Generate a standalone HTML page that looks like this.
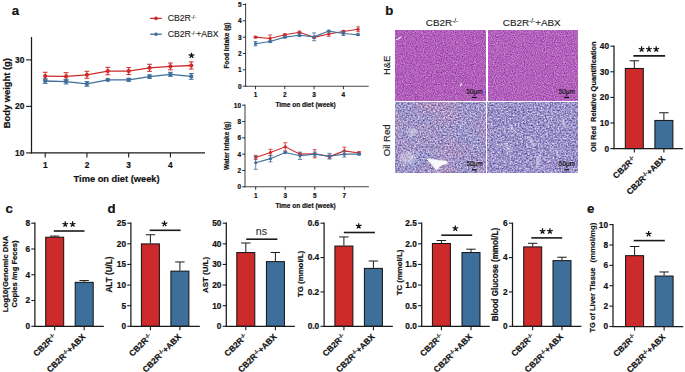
<!DOCTYPE html>
<html><head><meta charset="utf-8"><title>Figure</title>
<style>
html,body{margin:0;padding:0;background:#fff;}
body{width:685px;height:372px;overflow:hidden;}
svg{display:block;font-family:"Liberation Sans", sans-serif;}
</style></head>
<body>
<svg width="685" height="372" viewBox="0 0 685 372">

<defs>
<filter id="f_he" x="0" y="0" width="100%" height="100%" color-interpolation-filters="sRGB">
 <feTurbulence type="fractalNoise" baseFrequency="0.9" numOctaves="2" seed="4" result="n"/>
 <feColorMatrix in="n" type="matrix" values="0.45 -0.12 0 0 0.527  0.54 0 0 0 0.102  0.36 0.12 0 0 0.49  0 0 0 0 1"/>
</filter>
<filter id="f_he2" x="0" y="0" width="100%" height="100%" color-interpolation-filters="sRGB">
 <feTurbulence type="fractalNoise" baseFrequency="0.9" numOctaves="2" seed="9" result="n"/>
 <feColorMatrix in="n" type="matrix" values="0.45 -0.12 0 0 0.534  0.54 0 0 0 0.112  0.36 0.12 0 0 0.497  0 0 0 0 1"/>
</filter>
<filter id="f_or" x="0" y="0" width="100%" height="100%" color-interpolation-filters="sRGB">
 <feTurbulence type="fractalNoise" baseFrequency="0.6" numOctaves="2" seed="7" result="n0"/>
 <feGaussianBlur in="n0" stdDeviation="0.4" result="n"/>
 <feTurbulence type="fractalNoise" baseFrequency="0.035" numOctaves="2" seed="3" result="low"/>
 <feColorMatrix in="low" type="matrix" values="1 0 0 0 0  -0.3 0 0 0 0.65  -0.5 0 0 0 0.75  0 0 0 0 1" result="lowc"/>
 <feColorMatrix in="n" type="matrix" values="0.85 0.15 0 0 0.127  0.85 0 0 0 0.144  0.6 -0.08 0 0 0.505  0 0 0 0 1" result="hi"/>
 <feComposite in="hi" in2="lowc" operator="arithmetic" k1="0" k2="1" k3="0.13" k4="-0.065" result="base"/>
 <feTurbulence type="fractalNoise" baseFrequency="0.7" numOctaves="1" seed="21" result="s0"/>
 <feColorMatrix in="s0" type="matrix" values="0 0 0 0 0.93  0 0 0 0 0.92  0 0 0 0 0.96  5 0 0 0 -3.05" result="spk"/>
 <feComposite in="spk" in2="base" operator="over"/>
</filter>
<filter id="f_or2" x="0" y="0" width="100%" height="100%" color-interpolation-filters="sRGB">
 <feTurbulence type="fractalNoise" baseFrequency="0.6" numOctaves="2" seed="11" result="n0"/>
 <feGaussianBlur in="n0" stdDeviation="0.4" result="n"/>
 <feColorMatrix in="n" type="matrix" values="0.85 0.1 0 0 0.121  0.85 0 0 0 0.132  0.6 -0.05 0 0 0.501  0 0 0 0 1" result="base"/>
 <feTurbulence type="fractalNoise" baseFrequency="0.7" numOctaves="1" seed="33" result="s0"/>
 <feColorMatrix in="s0" type="matrix" values="0 0 0 0 0.93  0 0 0 0 0.92  0 0 0 0 0.96  5 0 0 0 -3.05" result="spk"/>
 <feComposite in="spk" in2="base" operator="over"/>
</filter>
<filter id="soft" x="-20%" y="-20%" width="140%" height="140%"><feGaussianBlur stdDeviation="0.8"/></filter>
</defs>

<rect width="685" height="372" fill="#fff"/>

<rect x="395.7" y="30.4" width="90.0" height="69.9" fill="#b45ab8" filter="url(#f_he)"/>
<rect x="488" y="30.4" width="90" height="69.9" fill="#b45ab8" filter="url(#f_he2)"/>
<rect x="395.4" y="102.7" width="90.4" height="69.9" fill="#9a8ec4" filter="url(#f_or)"/>
<rect x="487.9" y="102.7" width="89.8" height="69.9" fill="#9a8ec4" filter="url(#f_or2)"/>

<text x="11.80" y="14.80" font-size="13.2" font-weight="bold" text-anchor="start" fill="#111" stroke="#111" stroke-width="0.2">a</text>
<line x1="31.50" y1="37.00" x2="31.50" y2="153.50" stroke="#1a1a1a" stroke-width="1.25"/>
<line x1="30.90" y1="152.90" x2="205.00" y2="152.90" stroke="#1a1a1a" stroke-width="1.25"/>
<line x1="26.10" y1="152.90" x2="31.50" y2="152.90" stroke="#1a1a1a" stroke-width="1.1"/>
<text x="24.40" y="155.90" font-size="8.4" font-weight="bold" text-anchor="end" fill="#111" stroke="#111" stroke-width="0.2">10</text>
<line x1="26.10" y1="106.40" x2="31.50" y2="106.40" stroke="#1a1a1a" stroke-width="1.1"/>
<text x="24.40" y="109.40" font-size="8.4" font-weight="bold" text-anchor="end" fill="#111" stroke="#111" stroke-width="0.2">20</text>
<line x1="26.10" y1="59.90" x2="31.50" y2="59.90" stroke="#1a1a1a" stroke-width="1.1"/>
<text x="24.40" y="62.90" font-size="8.4" font-weight="bold" text-anchor="end" fill="#111" stroke="#111" stroke-width="0.2">30</text>
<line x1="45.20" y1="152.90" x2="45.20" y2="157.50" stroke="#1a1a1a" stroke-width="1.1"/>
<text x="45.20" y="167.70" font-size="8.3" font-weight="bold" text-anchor="middle" fill="#111" stroke="#111" stroke-width="0.2">1</text>
<line x1="86.94" y1="152.90" x2="86.94" y2="157.50" stroke="#1a1a1a" stroke-width="1.1"/>
<text x="86.94" y="167.70" font-size="8.3" font-weight="bold" text-anchor="middle" fill="#111" stroke="#111" stroke-width="0.2">2</text>
<line x1="128.68" y1="152.90" x2="128.68" y2="157.50" stroke="#1a1a1a" stroke-width="1.1"/>
<text x="128.68" y="167.70" font-size="8.3" font-weight="bold" text-anchor="middle" fill="#111" stroke="#111" stroke-width="0.2">3</text>
<line x1="170.42" y1="152.90" x2="170.42" y2="157.50" stroke="#1a1a1a" stroke-width="1.1"/>
<text x="170.42" y="167.70" font-size="8.3" font-weight="bold" text-anchor="middle" fill="#111" stroke="#111" stroke-width="0.2">4</text>
<text x="116.60" y="181.70" font-size="9.9" font-weight="bold" text-anchor="middle" fill="#111" textLength="86.0" lengthAdjust="spacingAndGlyphs" stroke="#111" stroke-width="0.2">Time on diet (week)</text>
<text x="0" y="0" font-size="9.4" font-weight="bold" text-anchor="middle" fill="#111" transform="translate(9.70 93.20) rotate(-90)" textLength="70.3" lengthAdjust="spacingAndGlyphs" stroke="#111" stroke-width="0.2">Body weight (g)</text>
<polyline points="45.20,76.08 66.07,76.41 86.94,74.78 107.81,71.06 128.68,71.06 149.55,67.80 170.42,66.41 191.29,65.48" fill="none" stroke="#cd2a2b" stroke-width="1.3"/>
<line x1="45.20" y1="72.27" x2="45.20" y2="79.90" stroke="#cd2a2b" stroke-width="1.0"/>
<line x1="42.80" y1="72.27" x2="47.60" y2="72.27" stroke="#cd2a2b" stroke-width="1.0"/>
<line x1="42.80" y1="79.90" x2="47.60" y2="79.90" stroke="#cd2a2b" stroke-width="1.0"/>
<circle cx="45.20" cy="76.08" r="2.1" fill="#cd2a2b"/>
<line x1="66.07" y1="72.69" x2="66.07" y2="80.13" stroke="#cd2a2b" stroke-width="1.0"/>
<line x1="63.67" y1="72.69" x2="68.47" y2="72.69" stroke="#cd2a2b" stroke-width="1.0"/>
<line x1="63.67" y1="80.13" x2="68.47" y2="80.13" stroke="#cd2a2b" stroke-width="1.0"/>
<circle cx="66.07" cy="76.41" r="2.1" fill="#cd2a2b"/>
<line x1="86.94" y1="71.29" x2="86.94" y2="78.27" stroke="#cd2a2b" stroke-width="1.0"/>
<line x1="84.54" y1="71.29" x2="89.34" y2="71.29" stroke="#cd2a2b" stroke-width="1.0"/>
<line x1="84.54" y1="78.27" x2="89.34" y2="78.27" stroke="#cd2a2b" stroke-width="1.0"/>
<circle cx="86.94" cy="74.78" r="2.1" fill="#cd2a2b"/>
<line x1="107.81" y1="67.34" x2="107.81" y2="74.78" stroke="#cd2a2b" stroke-width="1.0"/>
<line x1="105.41" y1="67.34" x2="110.21" y2="67.34" stroke="#cd2a2b" stroke-width="1.0"/>
<line x1="105.41" y1="74.78" x2="110.21" y2="74.78" stroke="#cd2a2b" stroke-width="1.0"/>
<circle cx="107.81" cy="71.06" r="2.1" fill="#cd2a2b"/>
<line x1="128.68" y1="67.57" x2="128.68" y2="74.55" stroke="#cd2a2b" stroke-width="1.0"/>
<line x1="126.28" y1="67.57" x2="131.08" y2="67.57" stroke="#cd2a2b" stroke-width="1.0"/>
<line x1="126.28" y1="74.55" x2="131.08" y2="74.55" stroke="#cd2a2b" stroke-width="1.0"/>
<circle cx="128.68" cy="71.06" r="2.1" fill="#cd2a2b"/>
<line x1="149.55" y1="64.27" x2="149.55" y2="71.34" stroke="#cd2a2b" stroke-width="1.0"/>
<line x1="147.15" y1="64.27" x2="151.95" y2="64.27" stroke="#cd2a2b" stroke-width="1.0"/>
<line x1="147.15" y1="71.34" x2="151.95" y2="71.34" stroke="#cd2a2b" stroke-width="1.0"/>
<circle cx="149.55" cy="67.80" r="2.1" fill="#cd2a2b"/>
<line x1="170.42" y1="63.02" x2="170.42" y2="69.80" stroke="#cd2a2b" stroke-width="1.0"/>
<line x1="168.02" y1="63.02" x2="172.82" y2="63.02" stroke="#cd2a2b" stroke-width="1.0"/>
<line x1="168.02" y1="69.80" x2="172.82" y2="69.80" stroke="#cd2a2b" stroke-width="1.0"/>
<circle cx="170.42" cy="66.41" r="2.1" fill="#cd2a2b"/>
<line x1="191.29" y1="61.90" x2="191.29" y2="69.06" stroke="#cd2a2b" stroke-width="1.0"/>
<line x1="188.89" y1="61.90" x2="193.69" y2="61.90" stroke="#cd2a2b" stroke-width="1.0"/>
<line x1="188.89" y1="69.06" x2="193.69" y2="69.06" stroke="#cd2a2b" stroke-width="1.0"/>
<circle cx="191.29" cy="65.48" r="2.1" fill="#cd2a2b"/>
<polyline points="45.20,81.01 66.07,81.62 86.94,83.89 107.81,79.90 128.68,79.80 149.55,76.59 170.42,74.32 191.29,76.41" fill="none" stroke="#3e6f9b" stroke-width="1.3"/>
<line x1="45.20" y1="78.69" x2="45.20" y2="83.34" stroke="#3e6f9b" stroke-width="1.0"/>
<line x1="42.80" y1="78.69" x2="47.60" y2="78.69" stroke="#3e6f9b" stroke-width="1.0"/>
<line x1="42.80" y1="83.34" x2="47.60" y2="83.34" stroke="#3e6f9b" stroke-width="1.0"/>
<circle cx="45.20" cy="81.01" r="2.1" fill="#3e6f9b"/>
<line x1="66.07" y1="79.29" x2="66.07" y2="83.94" stroke="#3e6f9b" stroke-width="1.0"/>
<line x1="63.67" y1="79.29" x2="68.47" y2="79.29" stroke="#3e6f9b" stroke-width="1.0"/>
<line x1="63.67" y1="83.94" x2="68.47" y2="83.94" stroke="#3e6f9b" stroke-width="1.0"/>
<circle cx="66.07" cy="81.62" r="2.1" fill="#3e6f9b"/>
<line x1="86.94" y1="81.57" x2="86.94" y2="86.22" stroke="#3e6f9b" stroke-width="1.0"/>
<line x1="84.54" y1="81.57" x2="89.34" y2="81.57" stroke="#3e6f9b" stroke-width="1.0"/>
<line x1="84.54" y1="86.22" x2="89.34" y2="86.22" stroke="#3e6f9b" stroke-width="1.0"/>
<circle cx="86.94" cy="83.89" r="2.1" fill="#3e6f9b"/>
<line x1="107.81" y1="78.97" x2="107.81" y2="80.83" stroke="#3e6f9b" stroke-width="1.0"/>
<line x1="105.41" y1="78.97" x2="110.21" y2="78.97" stroke="#3e6f9b" stroke-width="1.0"/>
<line x1="105.41" y1="80.83" x2="110.21" y2="80.83" stroke="#3e6f9b" stroke-width="1.0"/>
<circle cx="107.81" cy="79.90" r="2.1" fill="#3e6f9b"/>
<line x1="128.68" y1="78.31" x2="128.68" y2="81.29" stroke="#3e6f9b" stroke-width="1.0"/>
<line x1="126.28" y1="78.31" x2="131.08" y2="78.31" stroke="#3e6f9b" stroke-width="1.0"/>
<line x1="126.28" y1="81.29" x2="131.08" y2="81.29" stroke="#3e6f9b" stroke-width="1.0"/>
<circle cx="128.68" cy="79.80" r="2.1" fill="#3e6f9b"/>
<line x1="149.55" y1="74.87" x2="149.55" y2="78.31" stroke="#3e6f9b" stroke-width="1.0"/>
<line x1="147.15" y1="74.87" x2="151.95" y2="74.87" stroke="#3e6f9b" stroke-width="1.0"/>
<line x1="147.15" y1="78.31" x2="151.95" y2="78.31" stroke="#3e6f9b" stroke-width="1.0"/>
<circle cx="149.55" cy="76.59" r="2.1" fill="#3e6f9b"/>
<line x1="170.42" y1="72.32" x2="170.42" y2="76.31" stroke="#3e6f9b" stroke-width="1.0"/>
<line x1="168.02" y1="72.32" x2="172.82" y2="72.32" stroke="#3e6f9b" stroke-width="1.0"/>
<line x1="168.02" y1="76.31" x2="172.82" y2="76.31" stroke="#3e6f9b" stroke-width="1.0"/>
<circle cx="170.42" cy="74.32" r="2.1" fill="#3e6f9b"/>
<line x1="191.29" y1="73.52" x2="191.29" y2="79.29" stroke="#3e6f9b" stroke-width="1.0"/>
<line x1="188.89" y1="73.52" x2="193.69" y2="73.52" stroke="#3e6f9b" stroke-width="1.0"/>
<line x1="188.89" y1="79.29" x2="193.69" y2="79.29" stroke="#3e6f9b" stroke-width="1.0"/>
<circle cx="191.29" cy="76.41" r="2.1" fill="#3e6f9b"/>
<path d="M191.50,55.58L191.50,52.63M191.50,55.58L194.31,54.67M191.50,55.58L188.69,54.67M191.50,55.58L193.23,57.97M191.50,55.58L189.77,57.97" stroke="#111" stroke-width="1.25" fill="none" stroke-linecap="butt"/>
<line x1="150.10" y1="18.40" x2="161.80" y2="18.40" stroke="#cd2a2b" stroke-width="1.3"/>
<circle cx="156" cy="18.4" r="1.8" fill="#cd2a2b"/>
<line x1="150.10" y1="34.20" x2="161.80" y2="34.20" stroke="#3e6f9b" stroke-width="1.3"/>
<circle cx="156" cy="34.2" r="1.8" fill="#3e6f9b"/>
<text x="167.70" y="21.40" font-size="8.7" font-weight="normal" text-anchor="start" fill="#222" stroke="#222" stroke-width="0.12">CB2R<tspan font-size="5.57" font-weight="normal" dy="-2.61">-/-</tspan></text>
<text x="167.70" y="37.20" font-size="8.7" font-weight="normal" text-anchor="start" fill="#222" stroke="#222" stroke-width="0.12">CB2R<tspan font-size="5.57" font-weight="normal" dy="-2.61">-/-</tspan><tspan dy="2.61">+ABX</tspan></text>
<line x1="245.60" y1="3.40" x2="245.60" y2="86.70" stroke="#444" stroke-width="1.05"/>
<line x1="245.10" y1="86.20" x2="368.70" y2="86.20" stroke="#444" stroke-width="1.05"/>
<line x1="242.80" y1="86.20" x2="245.60" y2="86.20" stroke="#1a1a1a" stroke-width="0.9"/>
<text x="241.60" y="88.80" font-size="6.5" font-weight="bold" text-anchor="end" fill="#111" stroke="#111" stroke-width="0.2">0</text>
<line x1="242.80" y1="69.85" x2="245.60" y2="69.85" stroke="#1a1a1a" stroke-width="0.9"/>
<text x="241.60" y="72.45" font-size="6.5" font-weight="bold" text-anchor="end" fill="#111" stroke="#111" stroke-width="0.2">1</text>
<line x1="242.80" y1="53.50" x2="245.60" y2="53.50" stroke="#1a1a1a" stroke-width="0.9"/>
<text x="241.60" y="56.10" font-size="6.5" font-weight="bold" text-anchor="end" fill="#111" stroke="#111" stroke-width="0.2">2</text>
<line x1="242.80" y1="37.15" x2="245.60" y2="37.15" stroke="#1a1a1a" stroke-width="0.9"/>
<text x="241.60" y="39.75" font-size="6.5" font-weight="bold" text-anchor="end" fill="#111" stroke="#111" stroke-width="0.2">3</text>
<line x1="242.80" y1="20.80" x2="245.60" y2="20.80" stroke="#1a1a1a" stroke-width="0.9"/>
<text x="241.60" y="23.40" font-size="6.5" font-weight="bold" text-anchor="end" fill="#111" stroke="#111" stroke-width="0.2">4</text>
<line x1="242.80" y1="4.45" x2="245.60" y2="4.45" stroke="#1a1a1a" stroke-width="0.9"/>
<text x="241.60" y="7.05" font-size="6.5" font-weight="bold" text-anchor="end" fill="#111" stroke="#111" stroke-width="0.2">5</text>
<line x1="255.50" y1="86.20" x2="255.50" y2="89.20" stroke="#1a1a1a" stroke-width="0.9"/>
<text x="255.50" y="96.70" font-size="6.4" font-weight="bold" text-anchor="middle" fill="#111" stroke="#111" stroke-width="0.2">1</text>
<line x1="284.80" y1="86.20" x2="284.80" y2="89.20" stroke="#1a1a1a" stroke-width="0.9"/>
<text x="284.80" y="96.70" font-size="6.4" font-weight="bold" text-anchor="middle" fill="#111" stroke="#111" stroke-width="0.2">2</text>
<line x1="314.10" y1="86.20" x2="314.10" y2="89.20" stroke="#1a1a1a" stroke-width="0.9"/>
<text x="314.10" y="96.70" font-size="6.4" font-weight="bold" text-anchor="middle" fill="#111" stroke="#111" stroke-width="0.2">3</text>
<line x1="343.40" y1="86.20" x2="343.40" y2="89.20" stroke="#1a1a1a" stroke-width="0.9"/>
<text x="343.40" y="96.70" font-size="6.4" font-weight="bold" text-anchor="middle" fill="#111" stroke="#111" stroke-width="0.2">4</text>
<text x="305.55" y="106.70" font-size="7.2" font-weight="bold" text-anchor="middle" fill="#111" textLength="60.3" lengthAdjust="spacingAndGlyphs" stroke="#111" stroke-width="0.2">Time on diet (week)</text>
<text x="0" y="0" font-size="6.6" font-weight="bold" text-anchor="middle" fill="#111" transform="translate(228.80 45.60) rotate(-90)" textLength="46.0" lengthAdjust="spacingAndGlyphs" stroke="#111" stroke-width="0.2">Food Intake (g)</text>
<polyline points="255.50,37.15 270.15,38.46 284.80,34.70 299.45,32.25 314.10,37.31 328.75,34.04 343.40,31.43 358.05,29.30" fill="none" stroke="#cd2a2b" stroke-width="1.1"/>
<line x1="255.50" y1="36.33" x2="255.50" y2="37.97" stroke="#cd2a2b" stroke-width="0.8"/>
<line x1="253.50" y1="36.33" x2="257.50" y2="36.33" stroke="#cd2a2b" stroke-width="0.8"/>
<line x1="253.50" y1="37.97" x2="257.50" y2="37.97" stroke="#cd2a2b" stroke-width="0.8"/>
<circle cx="255.50" cy="37.15" r="1.6" fill="#cd2a2b"/>
<line x1="270.15" y1="35.02" x2="270.15" y2="41.89" stroke="#cd2a2b" stroke-width="0.8"/>
<line x1="268.15" y1="35.02" x2="272.15" y2="35.02" stroke="#cd2a2b" stroke-width="0.8"/>
<line x1="268.15" y1="41.89" x2="272.15" y2="41.89" stroke="#cd2a2b" stroke-width="0.8"/>
<circle cx="270.15" cy="38.46" r="1.6" fill="#cd2a2b"/>
<line x1="284.80" y1="33.88" x2="284.80" y2="35.51" stroke="#cd2a2b" stroke-width="0.8"/>
<line x1="282.80" y1="33.88" x2="286.80" y2="33.88" stroke="#cd2a2b" stroke-width="0.8"/>
<line x1="282.80" y1="35.51" x2="286.80" y2="35.51" stroke="#cd2a2b" stroke-width="0.8"/>
<circle cx="284.80" cy="34.70" r="1.6" fill="#cd2a2b"/>
<line x1="299.45" y1="31.10" x2="299.45" y2="33.39" stroke="#cd2a2b" stroke-width="0.8"/>
<line x1="297.45" y1="31.10" x2="301.45" y2="31.10" stroke="#cd2a2b" stroke-width="0.8"/>
<line x1="297.45" y1="33.39" x2="301.45" y2="33.39" stroke="#cd2a2b" stroke-width="0.8"/>
<circle cx="299.45" cy="32.25" r="1.6" fill="#cd2a2b"/>
<line x1="314.10" y1="36.33" x2="314.10" y2="38.29" stroke="#cd2a2b" stroke-width="0.8"/>
<line x1="312.10" y1="36.33" x2="316.10" y2="36.33" stroke="#cd2a2b" stroke-width="0.8"/>
<line x1="312.10" y1="38.29" x2="316.10" y2="38.29" stroke="#cd2a2b" stroke-width="0.8"/>
<circle cx="314.10" cy="37.31" r="1.6" fill="#cd2a2b"/>
<line x1="328.75" y1="31.75" x2="328.75" y2="36.33" stroke="#cd2a2b" stroke-width="0.8"/>
<line x1="326.75" y1="31.75" x2="330.75" y2="31.75" stroke="#cd2a2b" stroke-width="0.8"/>
<line x1="326.75" y1="36.33" x2="330.75" y2="36.33" stroke="#cd2a2b" stroke-width="0.8"/>
<circle cx="328.75" cy="34.04" r="1.6" fill="#cd2a2b"/>
<line x1="343.40" y1="30.45" x2="343.40" y2="32.41" stroke="#cd2a2b" stroke-width="0.8"/>
<line x1="341.40" y1="30.45" x2="345.40" y2="30.45" stroke="#cd2a2b" stroke-width="0.8"/>
<line x1="341.40" y1="32.41" x2="345.40" y2="32.41" stroke="#cd2a2b" stroke-width="0.8"/>
<circle cx="343.40" cy="31.43" r="1.6" fill="#cd2a2b"/>
<line x1="358.05" y1="26.85" x2="358.05" y2="31.75" stroke="#cd2a2b" stroke-width="0.8"/>
<line x1="356.05" y1="26.85" x2="360.05" y2="26.85" stroke="#cd2a2b" stroke-width="0.8"/>
<line x1="356.05" y1="31.75" x2="360.05" y2="31.75" stroke="#cd2a2b" stroke-width="0.8"/>
<circle cx="358.05" cy="29.30" r="1.6" fill="#cd2a2b"/>
<polyline points="255.50,43.69 270.15,41.56 284.80,37.15 299.45,35.19 314.10,36.82 328.75,31.10 343.40,33.55 358.05,34.70" fill="none" stroke="#3e6f9b" stroke-width="1.1"/>
<line x1="255.50" y1="41.56" x2="255.50" y2="45.82" stroke="#3e6f9b" stroke-width="0.8"/>
<line x1="253.50" y1="41.56" x2="257.50" y2="41.56" stroke="#3e6f9b" stroke-width="0.8"/>
<line x1="253.50" y1="45.82" x2="257.50" y2="45.82" stroke="#3e6f9b" stroke-width="0.8"/>
<circle cx="255.50" cy="43.69" r="1.6" fill="#3e6f9b"/>
<line x1="270.15" y1="40.75" x2="270.15" y2="42.38" stroke="#3e6f9b" stroke-width="0.8"/>
<line x1="268.15" y1="40.75" x2="272.15" y2="40.75" stroke="#3e6f9b" stroke-width="0.8"/>
<line x1="268.15" y1="42.38" x2="272.15" y2="42.38" stroke="#3e6f9b" stroke-width="0.8"/>
<circle cx="270.15" cy="41.56" r="1.6" fill="#3e6f9b"/>
<line x1="284.80" y1="36.33" x2="284.80" y2="37.97" stroke="#3e6f9b" stroke-width="0.8"/>
<line x1="282.80" y1="36.33" x2="286.80" y2="36.33" stroke="#3e6f9b" stroke-width="0.8"/>
<line x1="282.80" y1="37.97" x2="286.80" y2="37.97" stroke="#3e6f9b" stroke-width="0.8"/>
<circle cx="284.80" cy="37.15" r="1.6" fill="#3e6f9b"/>
<line x1="299.45" y1="33.88" x2="299.45" y2="36.50" stroke="#3e6f9b" stroke-width="0.8"/>
<line x1="297.45" y1="33.88" x2="301.45" y2="33.88" stroke="#3e6f9b" stroke-width="0.8"/>
<line x1="297.45" y1="36.50" x2="301.45" y2="36.50" stroke="#3e6f9b" stroke-width="0.8"/>
<circle cx="299.45" cy="35.19" r="1.6" fill="#3e6f9b"/>
<line x1="314.10" y1="32.90" x2="314.10" y2="40.75" stroke="#3e6f9b" stroke-width="0.8"/>
<line x1="312.10" y1="32.90" x2="316.10" y2="32.90" stroke="#3e6f9b" stroke-width="0.8"/>
<line x1="312.10" y1="40.75" x2="316.10" y2="40.75" stroke="#3e6f9b" stroke-width="0.8"/>
<circle cx="314.10" cy="36.82" r="1.6" fill="#3e6f9b"/>
<line x1="328.75" y1="30.28" x2="328.75" y2="31.92" stroke="#3e6f9b" stroke-width="0.8"/>
<line x1="326.75" y1="30.28" x2="330.75" y2="30.28" stroke="#3e6f9b" stroke-width="0.8"/>
<line x1="326.75" y1="31.92" x2="330.75" y2="31.92" stroke="#3e6f9b" stroke-width="0.8"/>
<circle cx="328.75" cy="31.10" r="1.6" fill="#3e6f9b"/>
<line x1="343.40" y1="31.59" x2="343.40" y2="35.51" stroke="#3e6f9b" stroke-width="0.8"/>
<line x1="341.40" y1="31.59" x2="345.40" y2="31.59" stroke="#3e6f9b" stroke-width="0.8"/>
<line x1="341.40" y1="35.51" x2="345.40" y2="35.51" stroke="#3e6f9b" stroke-width="0.8"/>
<circle cx="343.40" cy="33.55" r="1.6" fill="#3e6f9b"/>
<line x1="358.05" y1="33.88" x2="358.05" y2="35.51" stroke="#3e6f9b" stroke-width="0.8"/>
<line x1="356.05" y1="33.88" x2="360.05" y2="33.88" stroke="#3e6f9b" stroke-width="0.8"/>
<line x1="356.05" y1="35.51" x2="360.05" y2="35.51" stroke="#3e6f9b" stroke-width="0.8"/>
<circle cx="358.05" cy="34.70" r="1.6" fill="#3e6f9b"/>
<line x1="245.00" y1="104.60" x2="245.00" y2="187.30" stroke="#444" stroke-width="1.05"/>
<line x1="244.50" y1="186.80" x2="368.90" y2="186.80" stroke="#444" stroke-width="1.05"/>
<line x1="242.20" y1="186.80" x2="245.00" y2="186.80" stroke="#1a1a1a" stroke-width="0.9"/>
<text x="241.00" y="189.40" font-size="6.5" font-weight="bold" text-anchor="end" fill="#111" stroke="#111" stroke-width="0.2">0</text>
<line x1="242.20" y1="170.48" x2="245.00" y2="170.48" stroke="#1a1a1a" stroke-width="0.9"/>
<text x="241.00" y="173.08" font-size="6.5" font-weight="bold" text-anchor="end" fill="#111" stroke="#111" stroke-width="0.2">2</text>
<line x1="242.20" y1="154.16" x2="245.00" y2="154.16" stroke="#1a1a1a" stroke-width="0.9"/>
<text x="241.00" y="156.76" font-size="6.5" font-weight="bold" text-anchor="end" fill="#111" stroke="#111" stroke-width="0.2">4</text>
<line x1="242.20" y1="137.84" x2="245.00" y2="137.84" stroke="#1a1a1a" stroke-width="0.9"/>
<text x="241.00" y="140.44" font-size="6.5" font-weight="bold" text-anchor="end" fill="#111" stroke="#111" stroke-width="0.2">6</text>
<line x1="242.20" y1="121.52" x2="245.00" y2="121.52" stroke="#1a1a1a" stroke-width="0.9"/>
<text x="241.00" y="124.12" font-size="6.5" font-weight="bold" text-anchor="end" fill="#111" stroke="#111" stroke-width="0.2">8</text>
<line x1="242.20" y1="105.20" x2="245.00" y2="105.20" stroke="#1a1a1a" stroke-width="0.9"/>
<text x="241.00" y="107.80" font-size="6.5" font-weight="bold" text-anchor="end" fill="#111" stroke="#111" stroke-width="0.2">10</text>
<line x1="255.70" y1="186.80" x2="255.70" y2="189.80" stroke="#1a1a1a" stroke-width="0.9"/>
<text x="255.70" y="197.60" font-size="6.4" font-weight="bold" text-anchor="middle" fill="#111" stroke="#111" stroke-width="0.2">1</text>
<line x1="285.24" y1="186.80" x2="285.24" y2="189.80" stroke="#1a1a1a" stroke-width="0.9"/>
<text x="285.24" y="197.60" font-size="6.4" font-weight="bold" text-anchor="middle" fill="#111" stroke="#111" stroke-width="0.2">3</text>
<line x1="314.78" y1="186.80" x2="314.78" y2="189.80" stroke="#1a1a1a" stroke-width="0.9"/>
<text x="314.78" y="197.60" font-size="6.4" font-weight="bold" text-anchor="middle" fill="#111" stroke="#111" stroke-width="0.2">5</text>
<line x1="344.32" y1="186.80" x2="344.32" y2="189.80" stroke="#1a1a1a" stroke-width="0.9"/>
<text x="344.32" y="197.60" font-size="6.4" font-weight="bold" text-anchor="middle" fill="#111" stroke="#111" stroke-width="0.2">7</text>
<text x="305.55" y="207.60" font-size="7.2" font-weight="bold" text-anchor="middle" fill="#111" textLength="60.3" lengthAdjust="spacingAndGlyphs" stroke="#111" stroke-width="0.2">Time on diet (week)</text>
<text x="0" y="0" font-size="6.6" font-weight="bold" text-anchor="middle" fill="#111" transform="translate(228.80 145.80) rotate(-90)" textLength="48.2" lengthAdjust="spacingAndGlyphs" stroke="#111" stroke-width="0.2">Water Intake (g)</text>
<polyline points="255.70,157.42 270.47,152.53 285.24,146.82 300.01,154.16 314.78,153.75 329.55,156.61 344.32,150.90 359.09,152.94" fill="none" stroke="#cd2a2b" stroke-width="1.1"/>
<line x1="255.70" y1="155.38" x2="255.70" y2="159.46" stroke="#cd2a2b" stroke-width="0.8"/>
<line x1="253.70" y1="155.38" x2="257.70" y2="155.38" stroke="#cd2a2b" stroke-width="0.8"/>
<line x1="253.70" y1="159.46" x2="257.70" y2="159.46" stroke="#cd2a2b" stroke-width="0.8"/>
<circle cx="255.70" cy="157.42" r="1.6" fill="#cd2a2b"/>
<line x1="270.47" y1="149.26" x2="270.47" y2="155.79" stroke="#cd2a2b" stroke-width="0.8"/>
<line x1="268.47" y1="149.26" x2="272.47" y2="149.26" stroke="#cd2a2b" stroke-width="0.8"/>
<line x1="268.47" y1="155.79" x2="272.47" y2="155.79" stroke="#cd2a2b" stroke-width="0.8"/>
<circle cx="270.47" cy="152.53" r="1.6" fill="#cd2a2b"/>
<line x1="285.24" y1="142.74" x2="285.24" y2="150.90" stroke="#cd2a2b" stroke-width="0.8"/>
<line x1="283.24" y1="142.74" x2="287.24" y2="142.74" stroke="#cd2a2b" stroke-width="0.8"/>
<line x1="283.24" y1="150.90" x2="287.24" y2="150.90" stroke="#cd2a2b" stroke-width="0.8"/>
<circle cx="285.24" cy="146.82" r="1.6" fill="#cd2a2b"/>
<line x1="300.01" y1="152.94" x2="300.01" y2="155.38" stroke="#cd2a2b" stroke-width="0.8"/>
<line x1="298.01" y1="152.94" x2="302.01" y2="152.94" stroke="#cd2a2b" stroke-width="0.8"/>
<line x1="298.01" y1="155.38" x2="302.01" y2="155.38" stroke="#cd2a2b" stroke-width="0.8"/>
<circle cx="300.01" cy="154.16" r="1.6" fill="#cd2a2b"/>
<line x1="314.78" y1="149.67" x2="314.78" y2="157.83" stroke="#cd2a2b" stroke-width="0.8"/>
<line x1="312.78" y1="149.67" x2="316.78" y2="149.67" stroke="#cd2a2b" stroke-width="0.8"/>
<line x1="312.78" y1="157.83" x2="316.78" y2="157.83" stroke="#cd2a2b" stroke-width="0.8"/>
<circle cx="314.78" cy="153.75" r="1.6" fill="#cd2a2b"/>
<line x1="329.55" y1="154.98" x2="329.55" y2="158.24" stroke="#cd2a2b" stroke-width="0.8"/>
<line x1="327.55" y1="154.98" x2="331.55" y2="154.98" stroke="#cd2a2b" stroke-width="0.8"/>
<line x1="327.55" y1="158.24" x2="331.55" y2="158.24" stroke="#cd2a2b" stroke-width="0.8"/>
<circle cx="329.55" cy="156.61" r="1.6" fill="#cd2a2b"/>
<line x1="344.32" y1="147.22" x2="344.32" y2="154.57" stroke="#cd2a2b" stroke-width="0.8"/>
<line x1="342.32" y1="147.22" x2="346.32" y2="147.22" stroke="#cd2a2b" stroke-width="0.8"/>
<line x1="342.32" y1="154.57" x2="346.32" y2="154.57" stroke="#cd2a2b" stroke-width="0.8"/>
<circle cx="344.32" cy="150.90" r="1.6" fill="#cd2a2b"/>
<line x1="359.09" y1="151.71" x2="359.09" y2="154.16" stroke="#cd2a2b" stroke-width="0.8"/>
<line x1="357.09" y1="151.71" x2="361.09" y2="151.71" stroke="#cd2a2b" stroke-width="0.8"/>
<line x1="357.09" y1="154.16" x2="361.09" y2="154.16" stroke="#cd2a2b" stroke-width="0.8"/>
<circle cx="359.09" cy="152.94" r="1.6" fill="#cd2a2b"/>
<polyline points="255.70,162.73 270.47,158.65 285.24,152.53 300.01,155.79 314.78,154.16 329.55,156.20 344.32,154.16 359.09,154.16" fill="none" stroke="#3e6f9b" stroke-width="1.1"/>
<line x1="255.70" y1="156.20" x2="255.70" y2="169.26" stroke="#3e6f9b" stroke-width="0.8"/>
<line x1="253.70" y1="156.20" x2="257.70" y2="156.20" stroke="#3e6f9b" stroke-width="0.8"/>
<line x1="253.70" y1="169.26" x2="257.70" y2="169.26" stroke="#3e6f9b" stroke-width="0.8"/>
<circle cx="255.70" cy="162.73" r="1.6" fill="#3e6f9b"/>
<line x1="270.47" y1="155.38" x2="270.47" y2="161.91" stroke="#3e6f9b" stroke-width="0.8"/>
<line x1="268.47" y1="155.38" x2="272.47" y2="155.38" stroke="#3e6f9b" stroke-width="0.8"/>
<line x1="268.47" y1="161.91" x2="272.47" y2="161.91" stroke="#3e6f9b" stroke-width="0.8"/>
<circle cx="270.47" cy="158.65" r="1.6" fill="#3e6f9b"/>
<line x1="285.24" y1="151.71" x2="285.24" y2="153.34" stroke="#3e6f9b" stroke-width="0.8"/>
<line x1="283.24" y1="151.71" x2="287.24" y2="151.71" stroke="#3e6f9b" stroke-width="0.8"/>
<line x1="283.24" y1="153.34" x2="287.24" y2="153.34" stroke="#3e6f9b" stroke-width="0.8"/>
<circle cx="285.24" cy="152.53" r="1.6" fill="#3e6f9b"/>
<line x1="300.01" y1="152.12" x2="300.01" y2="159.46" stroke="#3e6f9b" stroke-width="0.8"/>
<line x1="298.01" y1="152.12" x2="302.01" y2="152.12" stroke="#3e6f9b" stroke-width="0.8"/>
<line x1="298.01" y1="159.46" x2="302.01" y2="159.46" stroke="#3e6f9b" stroke-width="0.8"/>
<circle cx="300.01" cy="155.79" r="1.6" fill="#3e6f9b"/>
<line x1="314.78" y1="152.12" x2="314.78" y2="156.20" stroke="#3e6f9b" stroke-width="0.8"/>
<line x1="312.78" y1="152.12" x2="316.78" y2="152.12" stroke="#3e6f9b" stroke-width="0.8"/>
<line x1="312.78" y1="156.20" x2="316.78" y2="156.20" stroke="#3e6f9b" stroke-width="0.8"/>
<circle cx="314.78" cy="154.16" r="1.6" fill="#3e6f9b"/>
<line x1="329.55" y1="153.34" x2="329.55" y2="159.06" stroke="#3e6f9b" stroke-width="0.8"/>
<line x1="327.55" y1="153.34" x2="331.55" y2="153.34" stroke="#3e6f9b" stroke-width="0.8"/>
<line x1="327.55" y1="159.06" x2="331.55" y2="159.06" stroke="#3e6f9b" stroke-width="0.8"/>
<circle cx="329.55" cy="156.20" r="1.6" fill="#3e6f9b"/>
<line x1="344.32" y1="151.30" x2="344.32" y2="157.02" stroke="#3e6f9b" stroke-width="0.8"/>
<line x1="342.32" y1="151.30" x2="346.32" y2="151.30" stroke="#3e6f9b" stroke-width="0.8"/>
<line x1="342.32" y1="157.02" x2="346.32" y2="157.02" stroke="#3e6f9b" stroke-width="0.8"/>
<circle cx="344.32" cy="154.16" r="1.6" fill="#3e6f9b"/>
<line x1="359.09" y1="153.34" x2="359.09" y2="154.98" stroke="#3e6f9b" stroke-width="0.8"/>
<line x1="357.09" y1="153.34" x2="361.09" y2="153.34" stroke="#3e6f9b" stroke-width="0.8"/>
<line x1="357.09" y1="154.98" x2="361.09" y2="154.98" stroke="#3e6f9b" stroke-width="0.8"/>
<circle cx="359.09" cy="154.16" r="1.6" fill="#3e6f9b"/>
<text x="385.20" y="14.90" font-size="13.2" font-weight="bold" text-anchor="start" fill="#111" stroke="#111" stroke-width="0.2">b</text>
<text x="425.80" y="25.70" font-size="9.9" font-weight="normal" text-anchor="start" fill="#222" stroke="#222" stroke-width="0.12">CB2R<tspan font-size="6.34" font-weight="normal" dy="-2.97">-/-</tspan></text>
<text x="502.80" y="25.70" font-size="9.9" font-weight="normal" text-anchor="start" fill="#222" stroke="#222" stroke-width="0.12">CB2R<tspan font-size="6.34" font-weight="normal" dy="-2.97">-/-</tspan><tspan dy="2.97">+ABX</tspan></text>
<text x="0" y="0" font-size="9.4" font-weight="normal" text-anchor="middle" fill="#222" transform="translate(389.60 65.45) rotate(-90)" stroke="#222" stroke-width="0.15">H&amp;E</text>
<text x="0" y="0" font-size="9.6" font-weight="normal" text-anchor="middle" fill="#222" transform="translate(389.60 140.30) rotate(-90)" stroke="#222" stroke-width="0.15">Oil Red</text>
<g filter="url(#soft)" opacity="0.55" stroke="#fff" fill="none" stroke-linecap="round"><path d="M539.5,155.5 L537,167" stroke-width="2.2"/><path d="M529,137 L534,146" stroke-width="1.8"/><path d="M505,145 L511,151" stroke-width="2.4"/><path d="M510,126 L514,132" stroke-width="1.8"/><path d="M562,120 L565,126" stroke-width="1.8"/><path d="M556,150 L559,156" stroke-width="1.6"/></g>
<g filter="url(#soft)" opacity="0.35" fill="#fff"><ellipse cx="408" cy="158" rx="8" ry="6"/><ellipse cx="412" cy="132" rx="5" ry="4"/></g>
<path d="M395.7,39.8 Q398.5,39.6 400.8,36.9" stroke="#f4eef6" stroke-width="1.3" fill="none"/>
<path d="M460.2,86.2 L461.9,83.4" stroke="#f6f0f8" stroke-width="1.1" fill="none"/>
<path d="M426.8,159.0 L433,159.4 L440,160.6 L446,161.0 L448,162.4 L445.2,164.2 L440.5,165.6 L436.5,170.2 L432,164.6 Z" fill="#f8f8fa" stroke="#f8f8fa" stroke-width="0.6" stroke-linejoin="round"/>
<text x="466.30" y="93.80" font-size="6.7" font-weight="normal" text-anchor="start" fill="#111" textLength="16.3" lengthAdjust="spacingAndGlyphs" stroke="#111" stroke-width="0.15">50μm</text>
<line x1="471.90" y1="97.50" x2="476.70" y2="97.50" stroke="#111" stroke-width="1.2"/>
<text x="558.60" y="93.80" font-size="6.7" font-weight="normal" text-anchor="start" fill="#111" textLength="16.3" lengthAdjust="spacingAndGlyphs" stroke="#111" stroke-width="0.15">50μm</text>
<line x1="564.20" y1="97.50" x2="569.00" y2="97.50" stroke="#111" stroke-width="1.2"/>
<text x="466.40" y="166.10" font-size="6.7" font-weight="normal" text-anchor="start" fill="#111" textLength="16.3" lengthAdjust="spacingAndGlyphs" stroke="#111" stroke-width="0.15">50μm</text>
<line x1="472.00" y1="169.80" x2="476.80" y2="169.80" stroke="#111" stroke-width="1.2"/>
<text x="558.60" y="166.10" font-size="6.7" font-weight="normal" text-anchor="start" fill="#111" textLength="16.3" lengthAdjust="spacingAndGlyphs" stroke="#111" stroke-width="0.15">50μm</text>
<line x1="564.20" y1="169.80" x2="569.00" y2="169.80" stroke="#111" stroke-width="1.2"/>
<line x1="634.30" y1="60.79" x2="634.30" y2="67.96" stroke="#1a1a1a" stroke-width="1.0"/>
<line x1="629.60" y1="60.79" x2="639.00" y2="60.79" stroke="#1a1a1a" stroke-width="1.0"/>
<rect x="625.30" y="68.46" width="18.00" height="80.14" fill="#cd2a2b" stroke="#111" stroke-width="1.0"/>
<line x1="663.90" y1="112.76" x2="663.90" y2="119.93" stroke="#1a1a1a" stroke-width="1.0"/>
<line x1="659.20" y1="112.76" x2="668.60" y2="112.76" stroke="#1a1a1a" stroke-width="1.0"/>
<rect x="654.90" y="120.43" width="18.00" height="28.17" fill="#3e6f9b" stroke="#111" stroke-width="1.0"/>
<line x1="614.00" y1="45.60" x2="614.00" y2="149.20" stroke="#1a1a1a" stroke-width="1.25"/>
<line x1="613.40" y1="148.60" x2="682.90" y2="148.60" stroke="#1a1a1a" stroke-width="1.25"/>
<line x1="610.40" y1="148.60" x2="614.00" y2="148.60" stroke="#1a1a1a" stroke-width="1.1"/>
<text x="609.10" y="151.50" font-size="8.3" font-weight="bold" text-anchor="end" fill="#111" stroke="#111" stroke-width="0.2">0</text>
<line x1="610.40" y1="123.00" x2="614.00" y2="123.00" stroke="#1a1a1a" stroke-width="1.1"/>
<text x="609.10" y="125.90" font-size="8.3" font-weight="bold" text-anchor="end" fill="#111" stroke="#111" stroke-width="0.2">10</text>
<line x1="610.40" y1="97.40" x2="614.00" y2="97.40" stroke="#1a1a1a" stroke-width="1.1"/>
<text x="609.10" y="100.30" font-size="8.3" font-weight="bold" text-anchor="end" fill="#111" stroke="#111" stroke-width="0.2">20</text>
<line x1="610.40" y1="71.80" x2="614.00" y2="71.80" stroke="#1a1a1a" stroke-width="1.1"/>
<text x="609.10" y="74.70" font-size="8.3" font-weight="bold" text-anchor="end" fill="#111" stroke="#111" stroke-width="0.2">30</text>
<line x1="610.40" y1="46.20" x2="614.00" y2="46.20" stroke="#1a1a1a" stroke-width="1.1"/>
<text x="609.10" y="49.10" font-size="8.3" font-weight="bold" text-anchor="end" fill="#111" stroke="#111" stroke-width="0.2">40</text>
<line x1="634.30" y1="148.60" x2="634.30" y2="152.60" stroke="#1a1a1a" stroke-width="1.1"/>
<line x1="663.90" y1="148.60" x2="663.90" y2="152.60" stroke="#1a1a1a" stroke-width="1.1"/>
<line x1="633.40" y1="55.90" x2="665.10" y2="55.90" stroke="#1a1a1a" stroke-width="1.6"/>
<path d="M641.60,49.28L641.60,46.33M641.60,49.28L644.41,48.37M641.60,49.28L638.79,48.37M641.60,49.28L643.33,51.67M641.60,49.28L639.87,51.67" stroke="#111" stroke-width="1.25" fill="none" stroke-linecap="butt"/>
<path d="M648.90,49.28L648.90,46.33M648.90,49.28L651.71,48.37M648.90,49.28L646.09,48.37M648.90,49.28L650.63,51.67M648.90,49.28L647.17,51.67" stroke="#111" stroke-width="1.25" fill="none" stroke-linecap="butt"/>
<path d="M656.20,49.28L656.20,46.33M656.20,49.28L659.01,48.37M656.20,49.28L653.39,48.37M656.20,49.28L657.93,51.67M656.20,49.28L654.47,51.67" stroke="#111" stroke-width="1.25" fill="none" stroke-linecap="butt"/>
<text x="636.10" y="159.60" font-size="8.4" font-weight="bold" text-anchor="end" fill="#111" transform="rotate(-45 636.10 159.60)" stroke="#111" stroke-width="0.2">CB2R<tspan font-size="5.38" font-weight="bold" dy="-2.52">-/-</tspan></text>
<text x="665.70" y="159.60" font-size="8.4" font-weight="bold" text-anchor="end" fill="#111" transform="rotate(-45 665.70 159.60)" stroke="#111" stroke-width="0.2">CB2R<tspan font-size="5.38" font-weight="bold" dy="-2.52">-/-</tspan><tspan dy="2.52">+ABX</tspan></text>
<text x="0" y="0" font-size="7.45" font-weight="bold" text-anchor="middle" fill="#111" transform="translate(596.40 96.75) rotate(-90)" textLength="110.5" lengthAdjust="spacingAndGlyphs" stroke="#111" stroke-width="0.2">Oil Red&#160;&#160;Relative Quantification</text>
<text x="5.50" y="212.80" font-size="13.2" font-weight="bold" text-anchor="start" fill="#111" stroke="#111" stroke-width="0.2">c</text>
<line x1="54.70" y1="236.09" x2="54.70" y2="236.73" stroke="#1a1a1a" stroke-width="1.0"/>
<line x1="50.00" y1="236.09" x2="59.40" y2="236.09" stroke="#1a1a1a" stroke-width="1.0"/>
<rect x="45.70" y="237.23" width="18.00" height="89.07" fill="#cd2a2b" stroke="#111" stroke-width="1.0"/>
<line x1="84.20" y1="280.55" x2="84.20" y2="281.84" stroke="#1a1a1a" stroke-width="1.0"/>
<line x1="79.50" y1="280.55" x2="88.90" y2="280.55" stroke="#1a1a1a" stroke-width="1.0"/>
<rect x="75.20" y="282.34" width="18.00" height="43.96" fill="#3e6f9b" stroke="#111" stroke-width="1.0"/>
<line x1="34.90" y1="222.60" x2="34.90" y2="326.90" stroke="#1a1a1a" stroke-width="1.25"/>
<line x1="34.30" y1="326.30" x2="103.80" y2="326.30" stroke="#1a1a1a" stroke-width="1.25"/>
<line x1="31.30" y1="326.30" x2="34.90" y2="326.30" stroke="#1a1a1a" stroke-width="1.1"/>
<text x="30.00" y="329.20" font-size="8.3" font-weight="bold" text-anchor="end" fill="#111" stroke="#111" stroke-width="0.2">0</text>
<line x1="31.30" y1="300.52" x2="34.90" y2="300.52" stroke="#1a1a1a" stroke-width="1.1"/>
<text x="30.00" y="303.42" font-size="8.3" font-weight="bold" text-anchor="end" fill="#111" stroke="#111" stroke-width="0.2">2</text>
<line x1="31.30" y1="274.75" x2="34.90" y2="274.75" stroke="#1a1a1a" stroke-width="1.1"/>
<text x="30.00" y="277.65" font-size="8.3" font-weight="bold" text-anchor="end" fill="#111" stroke="#111" stroke-width="0.2">4</text>
<line x1="31.30" y1="248.97" x2="34.90" y2="248.97" stroke="#1a1a1a" stroke-width="1.1"/>
<text x="30.00" y="251.88" font-size="8.3" font-weight="bold" text-anchor="end" fill="#111" stroke="#111" stroke-width="0.2">6</text>
<line x1="31.30" y1="223.20" x2="34.90" y2="223.20" stroke="#1a1a1a" stroke-width="1.1"/>
<text x="30.00" y="226.10" font-size="8.3" font-weight="bold" text-anchor="end" fill="#111" stroke="#111" stroke-width="0.2">8</text>
<line x1="54.70" y1="326.30" x2="54.70" y2="330.30" stroke="#1a1a1a" stroke-width="1.1"/>
<line x1="84.20" y1="326.30" x2="84.20" y2="330.30" stroke="#1a1a1a" stroke-width="1.1"/>
<line x1="53.80" y1="231.00" x2="84.50" y2="231.00" stroke="#1a1a1a" stroke-width="1.6"/>
<path d="M65.25,224.28L65.25,221.33M65.25,224.28L68.06,223.37M65.25,224.28L62.44,223.37M65.25,224.28L66.98,226.67M65.25,224.28L63.52,226.67" stroke="#111" stroke-width="1.25" fill="none" stroke-linecap="butt"/>
<path d="M72.65,224.28L72.65,221.33M72.65,224.28L75.46,223.37M72.65,224.28L69.84,223.37M72.65,224.28L74.38,226.67M72.65,224.28L70.92,226.67" stroke="#111" stroke-width="1.25" fill="none" stroke-linecap="butt"/>
<text x="56.50" y="337.30" font-size="8.4" font-weight="bold" text-anchor="end" fill="#111" transform="rotate(-45 56.50 337.30)" stroke="#111" stroke-width="0.2">CB2R<tspan font-size="5.38" font-weight="bold" dy="-2.52">-/-</tspan></text>
<text x="86.00" y="337.30" font-size="8.4" font-weight="bold" text-anchor="end" fill="#111" transform="rotate(-45 86.00 337.30)" stroke="#111" stroke-width="0.2">CB2R<tspan font-size="5.38" font-weight="bold" dy="-2.52">-/-</tspan><tspan dy="2.52">+ABX</tspan></text>
<text x="0" y="0" font-size="7.75" font-weight="bold" text-anchor="middle" fill="#111" transform="translate(7.60 273.90) rotate(-90)" textLength="76.5" lengthAdjust="spacingAndGlyphs" stroke="#111" stroke-width="0.2">Log10(Genomic DNA</text>
<text x="0" y="0" font-size="7.75" font-weight="bold" text-anchor="middle" fill="#111" transform="translate(16.90 274.00) rotate(-90)" textLength="67.0" lengthAdjust="spacingAndGlyphs" stroke="#111" stroke-width="0.2">Copies /mg Feces)</text>
<text x="107.60" y="213.40" font-size="13.2" font-weight="bold" text-anchor="start" fill="#111" stroke="#111" stroke-width="0.2">d</text>
<line x1="150.40" y1="234.75" x2="150.40" y2="243.41" stroke="#1a1a1a" stroke-width="1.0"/>
<line x1="145.70" y1="234.75" x2="155.10" y2="234.75" stroke="#1a1a1a" stroke-width="1.0"/>
<rect x="141.40" y="243.91" width="18.00" height="82.39" fill="#cd2a2b" stroke="#111" stroke-width="1.0"/>
<line x1="179.90" y1="261.97" x2="179.90" y2="270.63" stroke="#1a1a1a" stroke-width="1.0"/>
<line x1="175.20" y1="261.97" x2="184.60" y2="261.97" stroke="#1a1a1a" stroke-width="1.0"/>
<rect x="170.90" y="271.13" width="18.00" height="55.17" fill="#3e6f9b" stroke="#111" stroke-width="1.0"/>
<line x1="130.90" y1="222.60" x2="130.90" y2="326.90" stroke="#1a1a1a" stroke-width="1.25"/>
<line x1="130.30" y1="326.30" x2="199.80" y2="326.30" stroke="#1a1a1a" stroke-width="1.25"/>
<line x1="127.30" y1="326.30" x2="130.90" y2="326.30" stroke="#1a1a1a" stroke-width="1.1"/>
<text x="126.00" y="329.20" font-size="8.3" font-weight="bold" text-anchor="end" fill="#111" stroke="#111" stroke-width="0.2">0</text>
<line x1="127.30" y1="305.68" x2="130.90" y2="305.68" stroke="#1a1a1a" stroke-width="1.1"/>
<text x="126.00" y="308.58" font-size="8.3" font-weight="bold" text-anchor="end" fill="#111" stroke="#111" stroke-width="0.2">5</text>
<line x1="127.30" y1="285.06" x2="130.90" y2="285.06" stroke="#1a1a1a" stroke-width="1.1"/>
<text x="126.00" y="287.96" font-size="8.3" font-weight="bold" text-anchor="end" fill="#111" stroke="#111" stroke-width="0.2">10</text>
<line x1="127.30" y1="264.44" x2="130.90" y2="264.44" stroke="#1a1a1a" stroke-width="1.1"/>
<text x="126.00" y="267.34" font-size="8.3" font-weight="bold" text-anchor="end" fill="#111" stroke="#111" stroke-width="0.2">15</text>
<line x1="127.30" y1="243.82" x2="130.90" y2="243.82" stroke="#1a1a1a" stroke-width="1.1"/>
<text x="126.00" y="246.72" font-size="8.3" font-weight="bold" text-anchor="end" fill="#111" stroke="#111" stroke-width="0.2">20</text>
<line x1="127.30" y1="223.20" x2="130.90" y2="223.20" stroke="#1a1a1a" stroke-width="1.1"/>
<text x="126.00" y="226.10" font-size="8.3" font-weight="bold" text-anchor="end" fill="#111" stroke="#111" stroke-width="0.2">25</text>
<line x1="150.40" y1="326.30" x2="150.40" y2="330.30" stroke="#1a1a1a" stroke-width="1.1"/>
<line x1="179.90" y1="326.30" x2="179.90" y2="330.30" stroke="#1a1a1a" stroke-width="1.1"/>
<line x1="149.70" y1="230.30" x2="180.60" y2="230.30" stroke="#1a1a1a" stroke-width="1.6"/>
<path d="M164.50,223.78L164.50,220.83M164.50,223.78L167.31,222.87M164.50,223.78L161.69,222.87M164.50,223.78L166.23,226.17M164.50,223.78L162.77,226.17" stroke="#111" stroke-width="1.25" fill="none" stroke-linecap="butt"/>
<text x="152.20" y="337.30" font-size="8.4" font-weight="bold" text-anchor="end" fill="#111" transform="rotate(-45 152.20 337.30)" stroke="#111" stroke-width="0.2">CB2R<tspan font-size="5.38" font-weight="bold" dy="-2.52">-/-</tspan></text>
<text x="181.70" y="337.30" font-size="8.4" font-weight="bold" text-anchor="end" fill="#111" transform="rotate(-45 181.70 337.30)" stroke="#111" stroke-width="0.2">CB2R<tspan font-size="5.38" font-weight="bold" dy="-2.52">-/-</tspan><tspan dy="2.52">+ABX</tspan></text>
<text x="0" y="0" font-size="8.2" font-weight="bold" text-anchor="middle" fill="#111" transform="translate(111.60 274.50) rotate(-90)" textLength="36.0" lengthAdjust="spacingAndGlyphs" stroke="#111" stroke-width="0.2">ALT (U/L)</text>
<line x1="245.80" y1="243.00" x2="245.80" y2="252.07" stroke="#1a1a1a" stroke-width="1.0"/>
<line x1="241.10" y1="243.00" x2="250.50" y2="243.00" stroke="#1a1a1a" stroke-width="1.0"/>
<rect x="236.80" y="252.57" width="18.00" height="73.73" fill="#cd2a2b" stroke="#111" stroke-width="1.0"/>
<line x1="275.40" y1="252.48" x2="275.40" y2="261.14" stroke="#1a1a1a" stroke-width="1.0"/>
<line x1="270.70" y1="252.48" x2="280.10" y2="252.48" stroke="#1a1a1a" stroke-width="1.0"/>
<rect x="266.40" y="261.64" width="18.00" height="64.66" fill="#3e6f9b" stroke="#111" stroke-width="1.0"/>
<line x1="226.30" y1="222.60" x2="226.30" y2="326.90" stroke="#1a1a1a" stroke-width="1.25"/>
<line x1="225.70" y1="326.30" x2="294.80" y2="326.30" stroke="#1a1a1a" stroke-width="1.25"/>
<line x1="222.70" y1="326.30" x2="226.30" y2="326.30" stroke="#1a1a1a" stroke-width="1.1"/>
<text x="221.40" y="329.20" font-size="8.3" font-weight="bold" text-anchor="end" fill="#111" stroke="#111" stroke-width="0.2">0</text>
<line x1="222.70" y1="305.68" x2="226.30" y2="305.68" stroke="#1a1a1a" stroke-width="1.1"/>
<text x="221.40" y="308.58" font-size="8.3" font-weight="bold" text-anchor="end" fill="#111" stroke="#111" stroke-width="0.2">10</text>
<line x1="222.70" y1="285.06" x2="226.30" y2="285.06" stroke="#1a1a1a" stroke-width="1.1"/>
<text x="221.40" y="287.96" font-size="8.3" font-weight="bold" text-anchor="end" fill="#111" stroke="#111" stroke-width="0.2">20</text>
<line x1="222.70" y1="264.44" x2="226.30" y2="264.44" stroke="#1a1a1a" stroke-width="1.1"/>
<text x="221.40" y="267.34" font-size="8.3" font-weight="bold" text-anchor="end" fill="#111" stroke="#111" stroke-width="0.2">30</text>
<line x1="222.70" y1="243.82" x2="226.30" y2="243.82" stroke="#1a1a1a" stroke-width="1.1"/>
<text x="221.40" y="246.72" font-size="8.3" font-weight="bold" text-anchor="end" fill="#111" stroke="#111" stroke-width="0.2">40</text>
<line x1="222.70" y1="223.20" x2="226.30" y2="223.20" stroke="#1a1a1a" stroke-width="1.1"/>
<text x="221.40" y="226.10" font-size="8.3" font-weight="bold" text-anchor="end" fill="#111" stroke="#111" stroke-width="0.2">50</text>
<line x1="245.80" y1="326.30" x2="245.80" y2="330.30" stroke="#1a1a1a" stroke-width="1.1"/>
<line x1="275.40" y1="326.30" x2="275.40" y2="330.30" stroke="#1a1a1a" stroke-width="1.1"/>
<line x1="246.20" y1="239.20" x2="277.40" y2="239.20" stroke="#1a1a1a" stroke-width="1.6"/>
<text x="261.40" y="235.20" font-size="10.8" font-weight="normal" text-anchor="middle" fill="#222">ns</text>
<text x="247.60" y="337.30" font-size="8.4" font-weight="bold" text-anchor="end" fill="#111" transform="rotate(-45 247.60 337.30)" stroke="#111" stroke-width="0.2">CB2R<tspan font-size="5.38" font-weight="bold" dy="-2.52">-/-</tspan></text>
<text x="277.20" y="337.30" font-size="8.4" font-weight="bold" text-anchor="end" fill="#111" transform="rotate(-45 277.20 337.30)" stroke="#111" stroke-width="0.2">CB2R<tspan font-size="5.38" font-weight="bold" dy="-2.52">-/-</tspan><tspan dy="2.52">+ABX</tspan></text>
<text x="0" y="0" font-size="8.1" font-weight="bold" text-anchor="middle" fill="#111" transform="translate(208.00 275.00) rotate(-90)" textLength="36.2" lengthAdjust="spacingAndGlyphs" stroke="#111" stroke-width="0.2">AST (U/L)</text>
<line x1="343.90" y1="236.95" x2="343.90" y2="245.54" stroke="#1a1a1a" stroke-width="1.0"/>
<line x1="339.20" y1="236.95" x2="348.60" y2="236.95" stroke="#1a1a1a" stroke-width="1.0"/>
<rect x="334.90" y="246.04" width="18.00" height="80.26" fill="#cd2a2b" stroke="#111" stroke-width="1.0"/>
<line x1="373.40" y1="261.00" x2="373.40" y2="267.88" stroke="#1a1a1a" stroke-width="1.0"/>
<line x1="368.70" y1="261.00" x2="378.10" y2="261.00" stroke="#1a1a1a" stroke-width="1.0"/>
<rect x="364.40" y="268.38" width="18.00" height="57.92" fill="#3e6f9b" stroke="#111" stroke-width="1.0"/>
<line x1="324.10" y1="222.60" x2="324.10" y2="326.90" stroke="#1a1a1a" stroke-width="1.25"/>
<line x1="323.50" y1="326.30" x2="392.80" y2="326.30" stroke="#1a1a1a" stroke-width="1.25"/>
<line x1="320.50" y1="326.30" x2="324.10" y2="326.30" stroke="#1a1a1a" stroke-width="1.1"/>
<text x="319.20" y="329.20" font-size="8.3" font-weight="bold" text-anchor="end" fill="#111" stroke="#111" stroke-width="0.2">0.0</text>
<line x1="320.50" y1="291.93" x2="324.10" y2="291.93" stroke="#1a1a1a" stroke-width="1.1"/>
<text x="319.20" y="294.83" font-size="8.3" font-weight="bold" text-anchor="end" fill="#111" stroke="#111" stroke-width="0.2">0.2</text>
<line x1="320.50" y1="257.57" x2="324.10" y2="257.57" stroke="#1a1a1a" stroke-width="1.1"/>
<text x="319.20" y="260.47" font-size="8.3" font-weight="bold" text-anchor="end" fill="#111" stroke="#111" stroke-width="0.2">0.4</text>
<line x1="320.50" y1="223.20" x2="324.10" y2="223.20" stroke="#1a1a1a" stroke-width="1.1"/>
<text x="319.20" y="226.10" font-size="8.3" font-weight="bold" text-anchor="end" fill="#111" stroke="#111" stroke-width="0.2">0.6</text>
<line x1="343.90" y1="326.30" x2="343.90" y2="330.30" stroke="#1a1a1a" stroke-width="1.1"/>
<line x1="373.40" y1="326.30" x2="373.40" y2="330.30" stroke="#1a1a1a" stroke-width="1.1"/>
<line x1="343.80" y1="232.50" x2="374.90" y2="232.50" stroke="#1a1a1a" stroke-width="1.6"/>
<path d="M358.70,226.08L358.70,223.13M358.70,226.08L361.51,225.17M358.70,226.08L355.89,225.17M358.70,226.08L360.43,228.47M358.70,226.08L356.97,228.47" stroke="#111" stroke-width="1.25" fill="none" stroke-linecap="butt"/>
<text x="345.70" y="337.30" font-size="8.4" font-weight="bold" text-anchor="end" fill="#111" transform="rotate(-45 345.70 337.30)" stroke="#111" stroke-width="0.2">CB2R<tspan font-size="5.38" font-weight="bold" dy="-2.52">-/-</tspan></text>
<text x="375.20" y="337.30" font-size="8.4" font-weight="bold" text-anchor="end" fill="#111" transform="rotate(-45 375.20 337.30)" stroke="#111" stroke-width="0.2">CB2R<tspan font-size="5.38" font-weight="bold" dy="-2.52">-/-</tspan><tspan dy="2.52">+ABX</tspan></text>
<text x="0" y="0" font-size="7.9" font-weight="bold" text-anchor="middle" fill="#111" transform="translate(303.20 273.90) rotate(-90)" textLength="46.0" lengthAdjust="spacingAndGlyphs" stroke="#111" stroke-width="0.2">TG (mmol/L)</text>
<line x1="441.40" y1="240.52" x2="441.40" y2="243.00" stroke="#1a1a1a" stroke-width="1.0"/>
<line x1="436.70" y1="240.52" x2="446.10" y2="240.52" stroke="#1a1a1a" stroke-width="1.0"/>
<rect x="432.40" y="243.50" width="18.00" height="82.80" fill="#cd2a2b" stroke="#111" stroke-width="1.0"/>
<line x1="471.00" y1="249.18" x2="471.00" y2="252.07" stroke="#1a1a1a" stroke-width="1.0"/>
<line x1="466.30" y1="249.18" x2="475.70" y2="249.18" stroke="#1a1a1a" stroke-width="1.0"/>
<rect x="462.00" y="252.57" width="18.00" height="73.73" fill="#3e6f9b" stroke="#111" stroke-width="1.0"/>
<line x1="421.70" y1="222.60" x2="421.70" y2="326.90" stroke="#1a1a1a" stroke-width="1.25"/>
<line x1="421.10" y1="326.30" x2="489.80" y2="326.30" stroke="#1a1a1a" stroke-width="1.25"/>
<line x1="418.10" y1="326.30" x2="421.70" y2="326.30" stroke="#1a1a1a" stroke-width="1.1"/>
<text x="416.80" y="329.20" font-size="8.3" font-weight="bold" text-anchor="end" fill="#111" stroke="#111" stroke-width="0.2">0.0</text>
<line x1="418.10" y1="305.68" x2="421.70" y2="305.68" stroke="#1a1a1a" stroke-width="1.1"/>
<text x="416.80" y="308.58" font-size="8.3" font-weight="bold" text-anchor="end" fill="#111" stroke="#111" stroke-width="0.2">0.5</text>
<line x1="418.10" y1="285.06" x2="421.70" y2="285.06" stroke="#1a1a1a" stroke-width="1.1"/>
<text x="416.80" y="287.96" font-size="8.3" font-weight="bold" text-anchor="end" fill="#111" stroke="#111" stroke-width="0.2">1.0</text>
<line x1="418.10" y1="264.44" x2="421.70" y2="264.44" stroke="#1a1a1a" stroke-width="1.1"/>
<text x="416.80" y="267.34" font-size="8.3" font-weight="bold" text-anchor="end" fill="#111" stroke="#111" stroke-width="0.2">1.5</text>
<line x1="418.10" y1="243.82" x2="421.70" y2="243.82" stroke="#1a1a1a" stroke-width="1.1"/>
<text x="416.80" y="246.72" font-size="8.3" font-weight="bold" text-anchor="end" fill="#111" stroke="#111" stroke-width="0.2">2.0</text>
<line x1="418.10" y1="223.20" x2="421.70" y2="223.20" stroke="#1a1a1a" stroke-width="1.1"/>
<text x="416.80" y="226.10" font-size="8.3" font-weight="bold" text-anchor="end" fill="#111" stroke="#111" stroke-width="0.2">2.5</text>
<line x1="441.40" y1="326.30" x2="441.40" y2="330.30" stroke="#1a1a1a" stroke-width="1.1"/>
<line x1="471.00" y1="326.30" x2="471.00" y2="330.30" stroke="#1a1a1a" stroke-width="1.1"/>
<line x1="441.30" y1="235.20" x2="472.20" y2="235.20" stroke="#1a1a1a" stroke-width="1.6"/>
<path d="M455.30,228.38L455.30,225.43M455.30,228.38L458.11,227.47M455.30,228.38L452.49,227.47M455.30,228.38L457.03,230.77M455.30,228.38L453.57,230.77" stroke="#111" stroke-width="1.25" fill="none" stroke-linecap="butt"/>
<text x="443.20" y="337.30" font-size="8.4" font-weight="bold" text-anchor="end" fill="#111" transform="rotate(-45 443.20 337.30)" stroke="#111" stroke-width="0.2">CB2R<tspan font-size="5.38" font-weight="bold" dy="-2.52">-/-</tspan></text>
<text x="472.80" y="337.30" font-size="8.4" font-weight="bold" text-anchor="end" fill="#111" transform="rotate(-45 472.80 337.30)" stroke="#111" stroke-width="0.2">CB2R<tspan font-size="5.38" font-weight="bold" dy="-2.52">-/-</tspan><tspan dy="2.52">+ABX</tspan></text>
<text x="0" y="0" font-size="8.0" font-weight="bold" text-anchor="middle" fill="#111" transform="translate(402.20 272.50) rotate(-90)" textLength="45.6" lengthAdjust="spacingAndGlyphs" stroke="#111" stroke-width="0.2">TC (mmol/L)</text>
<line x1="532.70" y1="243.30" x2="532.70" y2="246.40" stroke="#1a1a1a" stroke-width="1.0"/>
<line x1="528.00" y1="243.30" x2="537.40" y2="243.30" stroke="#1a1a1a" stroke-width="1.0"/>
<rect x="523.70" y="246.90" width="18.00" height="79.40" fill="#cd2a2b" stroke="#111" stroke-width="1.0"/>
<line x1="562.00" y1="257.22" x2="562.00" y2="260.14" stroke="#1a1a1a" stroke-width="1.0"/>
<line x1="557.30" y1="257.22" x2="566.70" y2="257.22" stroke="#1a1a1a" stroke-width="1.0"/>
<rect x="553.00" y="260.64" width="18.00" height="65.66" fill="#3e6f9b" stroke="#111" stroke-width="1.0"/>
<line x1="512.50" y1="222.60" x2="512.50" y2="326.90" stroke="#1a1a1a" stroke-width="1.25"/>
<line x1="511.90" y1="326.30" x2="581.40" y2="326.30" stroke="#1a1a1a" stroke-width="1.25"/>
<line x1="508.90" y1="326.30" x2="512.50" y2="326.30" stroke="#1a1a1a" stroke-width="1.1"/>
<text x="507.60" y="329.20" font-size="8.3" font-weight="bold" text-anchor="end" fill="#111" stroke="#111" stroke-width="0.2">0</text>
<line x1="508.90" y1="291.93" x2="512.50" y2="291.93" stroke="#1a1a1a" stroke-width="1.1"/>
<text x="507.60" y="294.83" font-size="8.3" font-weight="bold" text-anchor="end" fill="#111" stroke="#111" stroke-width="0.2">2</text>
<line x1="508.90" y1="257.57" x2="512.50" y2="257.57" stroke="#1a1a1a" stroke-width="1.1"/>
<text x="507.60" y="260.47" font-size="8.3" font-weight="bold" text-anchor="end" fill="#111" stroke="#111" stroke-width="0.2">4</text>
<line x1="508.90" y1="223.20" x2="512.50" y2="223.20" stroke="#1a1a1a" stroke-width="1.1"/>
<text x="507.60" y="226.10" font-size="8.3" font-weight="bold" text-anchor="end" fill="#111" stroke="#111" stroke-width="0.2">6</text>
<line x1="532.70" y1="326.30" x2="532.70" y2="330.30" stroke="#1a1a1a" stroke-width="1.1"/>
<line x1="562.00" y1="326.30" x2="562.00" y2="330.30" stroke="#1a1a1a" stroke-width="1.1"/>
<line x1="531.30" y1="237.90" x2="562.20" y2="237.90" stroke="#1a1a1a" stroke-width="1.6"/>
<path d="M542.55,231.28L542.55,228.33M542.55,231.28L545.36,230.37M542.55,231.28L539.74,230.37M542.55,231.28L544.28,233.67M542.55,231.28L540.82,233.67" stroke="#111" stroke-width="1.25" fill="none" stroke-linecap="butt"/>
<path d="M549.95,231.28L549.95,228.33M549.95,231.28L552.76,230.37M549.95,231.28L547.14,230.37M549.95,231.28L551.68,233.67M549.95,231.28L548.22,233.67" stroke="#111" stroke-width="1.25" fill="none" stroke-linecap="butt"/>
<text x="534.50" y="337.30" font-size="8.4" font-weight="bold" text-anchor="end" fill="#111" transform="rotate(-45 534.50 337.30)" stroke="#111" stroke-width="0.2">CB2R<tspan font-size="5.38" font-weight="bold" dy="-2.52">-/-</tspan></text>
<text x="563.80" y="337.30" font-size="8.4" font-weight="bold" text-anchor="end" fill="#111" transform="rotate(-45 563.80 337.30)" stroke="#111" stroke-width="0.2">CB2R<tspan font-size="5.38" font-weight="bold" dy="-2.52">-/-</tspan><tspan dy="2.52">+ABX</tspan></text>
<text x="0" y="0" font-size="8.2" font-weight="bold" text-anchor="middle" fill="#111" transform="translate(497.90 274.60) rotate(-90)" textLength="93.5" lengthAdjust="spacingAndGlyphs" stroke="#111" stroke-width="0.2">Blood Glucose (mmol/L)</text>
<text x="587.10" y="212.60" font-size="13.2" font-weight="bold" text-anchor="start" fill="#111" stroke="#111" stroke-width="0.2">e</text>
<line x1="634.60" y1="246.51" x2="634.60" y2="255.17" stroke="#1a1a1a" stroke-width="1.0"/>
<line x1="629.90" y1="246.51" x2="639.30" y2="246.51" stroke="#1a1a1a" stroke-width="1.0"/>
<rect x="625.60" y="255.67" width="18.00" height="70.83" fill="#cd2a2b" stroke="#111" stroke-width="1.0"/>
<line x1="664.10" y1="271.98" x2="664.10" y2="275.55" stroke="#1a1a1a" stroke-width="1.0"/>
<line x1="659.40" y1="271.98" x2="668.80" y2="271.98" stroke="#1a1a1a" stroke-width="1.0"/>
<rect x="655.10" y="276.05" width="18.00" height="50.45" fill="#3e6f9b" stroke="#111" stroke-width="1.0"/>
<line x1="613.00" y1="224.00" x2="613.00" y2="327.10" stroke="#1a1a1a" stroke-width="1.25"/>
<line x1="612.40" y1="326.50" x2="683.30" y2="326.50" stroke="#1a1a1a" stroke-width="1.25"/>
<line x1="609.40" y1="326.50" x2="613.00" y2="326.50" stroke="#1a1a1a" stroke-width="1.1"/>
<text x="608.10" y="329.40" font-size="8.3" font-weight="bold" text-anchor="end" fill="#111" stroke="#111" stroke-width="0.2">0</text>
<line x1="609.40" y1="306.12" x2="613.00" y2="306.12" stroke="#1a1a1a" stroke-width="1.1"/>
<text x="608.10" y="309.02" font-size="8.3" font-weight="bold" text-anchor="end" fill="#111" stroke="#111" stroke-width="0.2">2</text>
<line x1="609.40" y1="285.74" x2="613.00" y2="285.74" stroke="#1a1a1a" stroke-width="1.1"/>
<text x="608.10" y="288.64" font-size="8.3" font-weight="bold" text-anchor="end" fill="#111" stroke="#111" stroke-width="0.2">4</text>
<line x1="609.40" y1="265.36" x2="613.00" y2="265.36" stroke="#1a1a1a" stroke-width="1.1"/>
<text x="608.10" y="268.26" font-size="8.3" font-weight="bold" text-anchor="end" fill="#111" stroke="#111" stroke-width="0.2">6</text>
<line x1="609.40" y1="244.98" x2="613.00" y2="244.98" stroke="#1a1a1a" stroke-width="1.1"/>
<text x="608.10" y="247.88" font-size="8.3" font-weight="bold" text-anchor="end" fill="#111" stroke="#111" stroke-width="0.2">8</text>
<line x1="609.40" y1="224.60" x2="613.00" y2="224.60" stroke="#1a1a1a" stroke-width="1.1"/>
<text x="608.10" y="227.50" font-size="8.3" font-weight="bold" text-anchor="end" fill="#111" stroke="#111" stroke-width="0.2">10</text>
<line x1="634.60" y1="326.50" x2="634.60" y2="330.50" stroke="#1a1a1a" stroke-width="1.1"/>
<line x1="664.10" y1="326.50" x2="664.10" y2="330.50" stroke="#1a1a1a" stroke-width="1.1"/>
<line x1="633.70" y1="240.60" x2="664.80" y2="240.60" stroke="#1a1a1a" stroke-width="1.6"/>
<path d="M648.60,233.98L648.60,231.03M648.60,233.98L651.41,233.07M648.60,233.98L645.79,233.07M648.60,233.98L650.33,236.37M648.60,233.98L646.87,236.37" stroke="#111" stroke-width="1.25" fill="none" stroke-linecap="butt"/>
<text x="636.40" y="337.50" font-size="8.4" font-weight="bold" text-anchor="end" fill="#111" transform="rotate(-45 636.40 337.50)" stroke="#111" stroke-width="0.2">CB2R<tspan font-size="5.38" font-weight="bold" dy="-2.52">-/-</tspan></text>
<text x="665.90" y="337.50" font-size="8.4" font-weight="bold" text-anchor="end" fill="#111" transform="rotate(-45 665.90 337.50)" stroke="#111" stroke-width="0.2">CB2R<tspan font-size="5.38" font-weight="bold" dy="-2.52">-/-</tspan><tspan dy="2.52">+ABX</tspan></text>
<text x="0" y="0" font-size="7.9" font-weight="bold" text-anchor="middle" fill="#111" transform="translate(595.20 300.00) rotate(-90)" textLength="65.0" lengthAdjust="spacingAndGlyphs" stroke="#111" stroke-width="0.2">TG of Liver Tissue</text>
<text x="0" y="0" font-size="7.9" font-weight="bold" text-anchor="middle" fill="#111" transform="translate(595.20 242.60) rotate(-90)" textLength="40.0" lengthAdjust="spacingAndGlyphs" stroke="#111" stroke-width="0.1">(mmol/mg)</text>
</svg>
</body></html>
